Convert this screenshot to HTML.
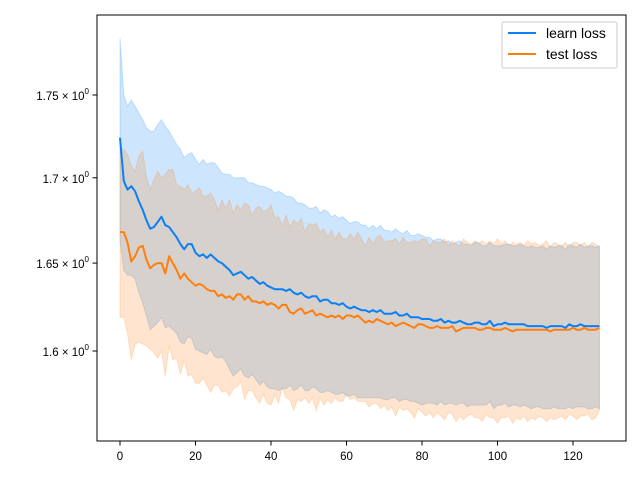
<!DOCTYPE html>
<html><head><meta charset="utf-8"><style>
body{margin:0;background:#fff}
svg{display:block;font-family:"Liberation Sans","DejaVu Sans",sans-serif}
</style></head><body>
<svg id="chart" width="640" height="480" xmlns="http://www.w3.org/2000/svg">
<rect width="640" height="480" fill="#fff"/>
<g id="bands"></g><g id="lines"></g>
<rect x="97" y="15" width="529" height="426" fill="none" stroke="#000" stroke-width="1"/>
<g id="axes"></g>
<g>
<rect x="502" y="22" width="115" height="46" rx="2" fill="#fff" fill-opacity="0.8" stroke="#ccc"/>
<line x1="508" y1="33" x2="536" y2="33" stroke="#0a80f5" stroke-width="2"/>
<text x="546" y="38" font-size="14">learn loss</text>
<line x1="508" y1="54" x2="536" y2="54" stroke="#ff7f0e" stroke-width="2"/>
<text x="546" y="59" font-size="14">test loss</text>
</g>
</svg>
<script>
const learnMean=[1.724,1.698,1.693,1.695,1.692,1.686,1.681,1.675,1.670,1.671,1.674,1.677,1.672,1.671,1.668,1.665,1.661,1.658,1.661,1.661,1.656,1.654,1.655,1.653,1.655,1.653,1.651,1.650,1.648,1.646,1.643,1.644,1.645,1.643,1.641,1.642,1.640,1.638,1.639,1.637,1.636,1.635,1.635,1.635,1.634,1.635,1.633,1.632,1.633,1.631,1.630,1.631,1.631,1.628,1.629,1.629,1.627,1.627,1.626,1.627,1.625,1.624,1.625,1.624,1.623,1.623,1.622,1.623,1.622,1.623,1.621,1.621,1.621,1.622,1.620,1.620,1.621,1.619,1.619,1.619,1.618,1.618,1.618,1.617,1.617,1.618,1.616,1.617,1.616,1.616,1.617,1.616,1.615,1.615,1.616,1.616,1.615,1.615,1.617,1.614,1.615,1.615,1.616,1.615,1.615,1.615,1.615,1.615,1.614,1.614,1.614,1.614,1.614,1.613,1.614,1.614,1.614,1.614,1.613,1.615,1.614,1.614,1.615,1.614,1.614,1.614,1.614,1.614];
const learnStd=[0.061,0.052,0.050,0.052,0.051,0.053,0.054,0.055,0.058,0.057,0.058,0.058,0.059,0.057,0.056,0.055,0.056,0.054,0.053,0.054,0.055,0.054,0.056,0.055,0.054,0.056,0.055,0.053,0.054,0.056,0.057,0.056,0.055,0.057,0.056,0.055,0.056,0.057,0.056,0.057,0.057,0.056,0.057,0.056,0.055,0.054,0.055,0.053,0.052,0.053,0.052,0.051,0.052,0.051,0.052,0.051,0.050,0.051,0.050,0.050,0.050,0.049,0.049,0.050,0.049,0.049,0.048,0.049,0.048,0.049,0.048,0.048,0.047,0.048,0.048,0.047,0.048,0.047,0.047,0.048,0.048,0.047,0.047,0.046,0.047,0.046,0.046,0.046,0.045,0.046,0.046,0.045,0.046,0.045,0.046,0.046,0.045,0.045,0.045,0.046,0.045,0.045,0.045,0.046,0.045,0.045,0.046,0.045,0.045,0.046,0.045,0.045,0.046,0.045,0.046,0.045,0.046,0.046,0.045,0.046,0.046,0.045,0.046,0.045,0.046,0.046,0.045,0.046];
const testMean=[1.668,1.668,1.662,1.651,1.654,1.659,1.660,1.652,1.647,1.649,1.650,1.650,1.644,1.654,1.650,1.646,1.641,1.644,1.641,1.639,1.637,1.638,1.637,1.635,1.634,1.634,1.631,1.632,1.630,1.631,1.629,1.632,1.632,1.629,1.631,1.628,1.628,1.627,1.628,1.626,1.627,1.626,1.624,1.626,1.626,1.622,1.621,1.623,1.624,1.621,1.622,1.623,1.620,1.621,1.620,1.619,1.620,1.619,1.620,1.618,1.620,1.620,1.619,1.620,1.618,1.616,1.617,1.616,1.618,1.617,1.616,1.615,1.616,1.614,1.615,1.616,1.615,1.614,1.613,1.615,1.615,1.614,1.613,1.613,1.614,1.613,1.613,1.613,1.614,1.611,1.612,1.613,1.613,1.613,1.613,1.612,1.612,1.613,1.613,1.612,1.612,1.612,1.613,1.612,1.611,1.612,1.612,1.612,1.612,1.612,1.612,1.612,1.612,1.612,1.611,1.612,1.612,1.612,1.612,1.612,1.613,1.612,1.612,1.613,1.612,1.612,1.612,1.613];
const testStd=[0.049,0.049,0.052,0.056,0.050,0.054,0.056,0.049,0.046,0.050,0.054,0.050,0.058,0.051,0.055,0.050,0.054,0.049,0.055,0.052,0.055,0.056,0.052,0.054,0.057,0.053,0.050,0.055,0.052,0.056,0.050,0.052,0.049,0.056,0.053,0.050,0.054,0.056,0.052,0.055,0.057,0.050,0.053,0.046,0.052,0.049,0.054,0.050,0.052,0.047,0.051,0.049,0.053,0.047,0.050,0.046,0.049,0.045,0.048,0.046,0.044,0.047,0.045,0.048,0.046,0.044,0.048,0.045,0.047,0.049,0.046,0.048,0.047,0.050,0.046,0.049,0.047,0.048,0.050,0.047,0.049,0.050,0.047,0.050,0.048,0.049,0.051,0.047,0.049,0.050,0.048,0.051,0.049,0.048,0.050,0.049,0.051,0.048,0.050,0.049,0.052,0.049,0.050,0.048,0.051,0.049,0.050,0.048,0.051,0.049,0.050,0.048,0.049,0.051,0.048,0.050,0.049,0.048,0.050,0.047,0.049,0.050,0.048,0.049,0.047,0.050,0.049,0.046];
const xTicks=[0,20,40,60,80,100,120];
const yTicks=[1.6,1.65,1.7,1.75];
const yTickLabels=["1.6","1.65","1.7","1.75"];
const NS="http://www.w3.org/2000/svg";
function sx(i){return 120+i*453/120;}
function sy(v){return 351-(Math.log(v)-Math.log(1.6))*2857;}
function mk(tag,attrs,parent){const e=document.createElementNS(NS,tag);for(const k in attrs)e.setAttribute(k,attrs[k]);parent.appendChild(e);return e;}
const bands=document.getElementById('bands'),lines=document.getElementById('lines'),axes=document.getElementById('axes');
function band(mean,std,color,name){
  let up=[],lo=[];
  for(let i=0;i<mean.length;i++){up.push(sx(i).toFixed(1)+','+sy(mean[i]+std[i]).toFixed(1));lo.unshift(sx(i).toFixed(1)+','+sy(mean[i]-std[i]).toFixed(1));}
  const p=mk('polygon',{points:up.concat(lo).join(' '),fill:color,'fill-opacity':0.2,stroke:color,'stroke-opacity':0.2,'stroke-width':1},bands);
  
  
}
function line(mean,color,name){
  const pts=mean.map((v,i)=>sx(i).toFixed(1)+','+sy(v).toFixed(1)).join(' ');
  const p=mk('polyline',{points:pts,fill:'none',stroke:color,'stroke-width':2,'stroke-linejoin':'round'},lines);
  
  
}
band(learnMean,learnStd,'#0a80f5','learn-loss-band');
band(testMean,testStd,'#ff7f0e','test-loss-band');
line(learnMean,'#0a80f5','learn-loss-line');
line(testMean,'#ff7f0e','test-loss-line');
xTicks.forEach(t=>{
  const x=sx(t);
  const tk=mk('line',{x1:x,y1:441,x2:x,y2:445.5,stroke:'#000'},axes);
  
  
  const tx=mk('text',{x:x,y:460,'font-size':11.5,'text-anchor':'middle'},axes);
  tx.textContent=t;
  
  
});
yTicks.forEach((t,i)=>{
  const y=sy(t);
  const tk=mk('line',{x1:92.5,y1:y,x2:97,y2:y,stroke:'#000'},axes);
  
  
  const tx=mk('text',{x:89,y:y+5,'font-size':11.5,'text-anchor':'end'},axes);
  
  
  tx.textContent=yTickLabels[i]+' \u00d7 10';
  const sup=mk('tspan',{'font-size':8,dy:-6},tx);
  sup.textContent='0';
});
</script>
</body></html>
